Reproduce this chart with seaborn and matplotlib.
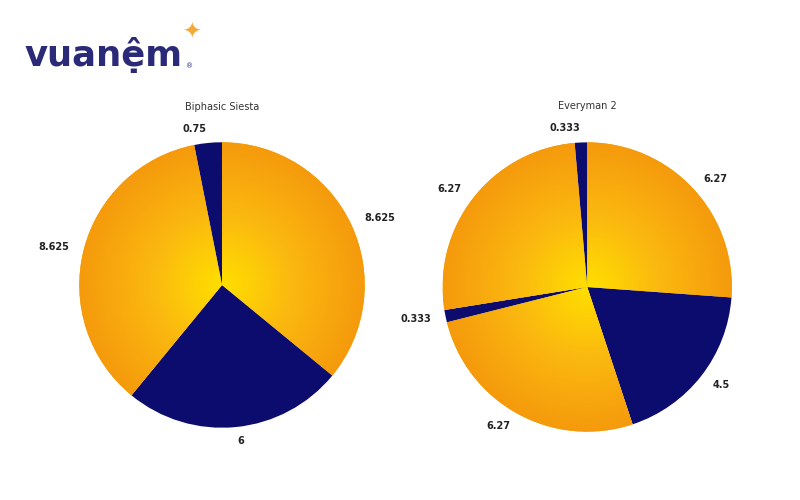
import matplotlib
matplotlib.use("Agg")
import matplotlib.pyplot as plt
import seaborn as sns
import numpy as np
from matplotlib.colors import LinearSegmentedColormap

sns.set_theme(style="white")
plt.rcParams['font.family'] = ['DejaVu Sans']

left_title = "Biphasic Siesta"
left_values = [8.625, 6, 8.625, 0.75]
left_labels = ["8.625", "6", "8.625", "0.75"]
left_kinds = ["sleep", "wake", "sleep", "wake"]

right_title = "Everyman 2"
right_values = [6.27, 4.5, 6.27, 0.333, 6.27, 0.333]
right_labels = ["6.27", "4.5", "6.27", "0.333", "6.27", "0.333"]
right_kinds = ["sleep", "wake", "sleep", "wake", "sleep", "wake"]

navy = "#0c0c6e"
cmap = LinearSegmentedColormap.from_list("og", ["#ffdf00", "#fbb810", "#f59a0c"])

fig = plt.figure(figsize=(8, 5), dpi=100)

xx, yy = np.meshgrid(np.linspace(-1, 1, 300), np.linspace(-1, 1, 300))
rr = np.sqrt(xx**2 + yy**2)

def draw(rect, values, labels, kinds, title):
    ax = fig.add_axes(rect)
    colors = [navy if k == "wake" else "#f8a80a" for k in kinds]
    wedges, texts = ax.pie(values, labels=labels, colors=colors, startangle=90,
                           counterclock=False, labeldistance=1.1,
                           wedgeprops=dict(linewidth=0),
                           textprops=dict(fontsize=7, fontweight="bold", color="#222222"))
    for w, k in zip(wedges, kinds):
        if k == "sleep":
            im = ax.imshow(rr, extent=[-1, 1, -1, 1], cmap=cmap, vmin=0, vmax=1, zorder=2)
            im.set_clip_path(w)
    ax.set_xlim(-1.25, 1.25)
    ax.set_ylim(-1.25, 1.25)
    ax.set_aspect("equal")
    ax.axis("off")
    ax.text(0, 1.25, title, ha="center", va="center", fontsize=7, color="#333333")

draw([0.2775 - 0.223, 0.43 - 0.357, 0.446, 0.714], left_values, left_labels, left_kinds, left_title)
draw([0.734 - 0.226, 0.426 - 0.362, 0.452, 0.724], right_values, right_labels, right_kinds, right_title)

fig.text(0.03, 0.89, "vuanệm", fontsize=25.5, fontweight="bold", color="#2b2a78", va="center")
fig.text(0.228, 0.935, "✦", fontsize=16, color="#f2a93b", va="center")
fig.text(0.232, 0.868, "®", fontsize=5, color="#2b2a78", va="center")

fig.savefig("out.png", dpi=100)
